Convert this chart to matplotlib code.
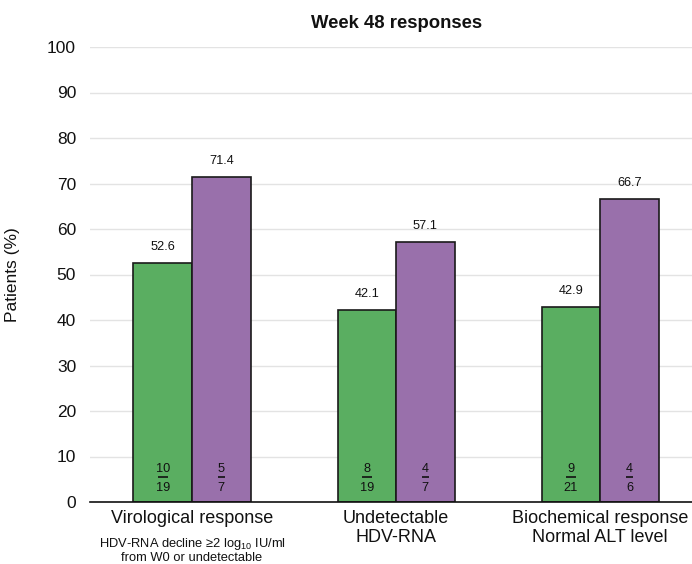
import matplotlib
matplotlib.use("Agg")
import matplotlib.pyplot as plt
from matplotlib.transforms import ScaledTranslation
import numpy as np

plt.rcParams['font.family'] = ['Liberation Sans', 'DejaVu Sans']
plt.rcParams['mathtext.fontset'] = 'custom'
plt.rcParams['mathtext.rm'] = 'Liberation Sans'
plt.rcParams['mathtext.it'] = 'Liberation Sans'

categories = ["Virological response", "Undetectable\nHDV-RNA", "Biochemical response\nNormal ALT level"]
subtitle_line1 = ["HDV-RNA decline \u22652 log$_{10}$ IU/ml", "", ""]
subtitle_line2 = ["from W0 or undetectable", "", ""]
green_values = [52.6, 42.1, 42.9]
purple_values = [71.4, 57.1, 66.7]
green_num = [10, 8, 9]
green_den = [19, 19, 21]
purple_num = [5, 4, 4]
purple_den = [7, 7, 6]
yticks = [0, 10, 20, 30, 40, 50, 60, 70, 80, 90, 100]

GREEN = '#5aae61'
PURPLE = '#9970ab'
TXT = '#111111'

fig = plt.figure(figsize=(6.92, 5.64), dpi=100)
ax = fig.add_axes([90/692, 1-502/564, 602/692, (502-47)/564])

x = np.arange(len(categories))
w = 0.287
b1 = ax.bar(x - w/2, green_values, w, color=GREEN, edgecolor='#1a1a1a', linewidth=1.2, zorder=3)
b2 = ax.bar(x + w/2, purple_values, w, color=PURPLE, edgecolor='#1a1a1a', linewidth=1.2, zorder=3)

ax.set_xlim(-0.5, 2.45)
ax.set_ylim(0, 100)

for bars, vals in ((b1, green_values), (b2, purple_values)):
    for r, v in zip(bars, vals):
        ax.annotate(f"{v:.1f}", (r.get_x() + r.get_width()/2, v), xytext=(0, 11.5),
                    textcoords='offset points', ha='center', va='center', fontsize=9.2, color=TXT)

line_trans = ax.transData + ScaledTranslation(0, 18/72, fig.dpi_scale_trans)
for bars, nums, dens in ((b1, green_num, green_den), (b2, purple_num, purple_den)):
    for r, n, d in zip(bars, nums, dens):
        cx = r.get_x() + r.get_width()/2
        ax.annotate(str(n), (cx, 0), xytext=(0, 21.6), textcoords='offset points',
                    ha='center', va='baseline', fontsize=9.2, color=TXT, zorder=5)
        ax.annotate(str(d), (cx, 0), xytext=(0, 8.0), textcoords='offset points',
                    ha='center', va='baseline', fontsize=9.2, color=TXT, zorder=5)
        wide = len(str(n)) > 1 or len(str(d)) > 1
        half = (5.2 if wide else 3.5) / 204
        ax.plot([cx - half, cx + half], [0, 0], transform=line_trans, color=TXT,
                linewidth=1.2, solid_capstyle='butt', zorder=6, clip_on=False)

ax.set_yticks(yticks)
ax.set_xticks(x)
ax.set_xticklabels(categories, fontsize=13, color=TXT, linespacing=1.1)
ax.tick_params(axis='x', length=0, pad=6)
ax.tick_params(axis='y', length=0, pad=10, labelsize=12.5, labelcolor=TXT)
ax.grid(axis='y', color='#e3e3e3', linewidth=1, zorder=0)
ax.set_axisbelow(True)
for s in ('top', 'right', 'left'):
    ax.spines[s].set_visible(False)
ax.spines['bottom'].set_color(TXT)
ax.spines['bottom'].set_linewidth(1.2)
ax.spines['bottom'].set_zorder(4)

for xi, s1, s2 in zip(x, subtitle_line1, subtitle_line2):
    if s1:
        ax.annotate(s1, (xi, 0), xytext=(0, -30), textcoords='offset points', ha='center',
                    va='center', fontsize=9.3, color=TXT, annotation_clip=False)
    if s2:
        ax.annotate(s2, (xi, 0), xytext=(0, -40.5), textcoords='offset points', ha='center',
                    va='center', fontsize=9.3, color=TXT, annotation_clip=False)

ax.set_ylabel("Patients (%)", fontsize=12.5, color=TXT)
ax.yaxis.set_label_coords(-0.116, 0.5)

fig.text(397/692, 1-24/564, "Week 48 responses", ha='center', va='center', fontsize=13.3,
         fontweight='bold', color=TXT)

fig.savefig("out.png", dpi=100)
